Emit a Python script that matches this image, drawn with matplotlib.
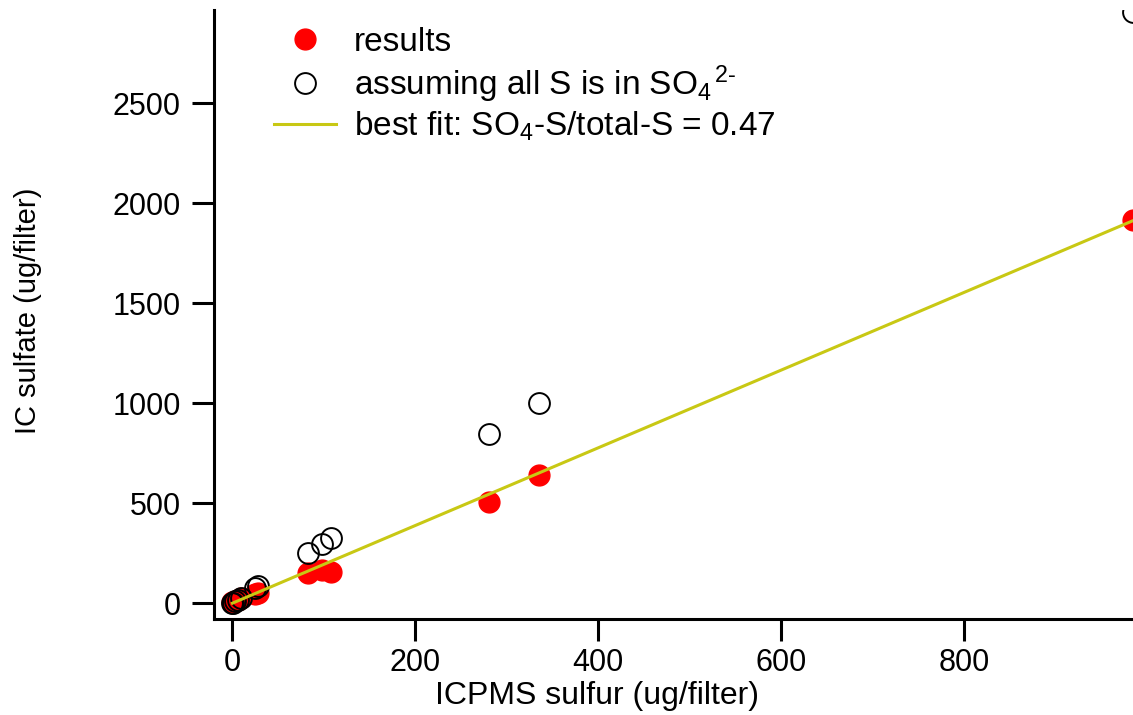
import matplotlib
matplotlib.use("Agg")
import matplotlib.pyplot as plt

plt.rcParams['font.family'] = ['Liberation Sans', 'DejaVu Sans']
plt.rcParams['mathtext.fontset'] = 'custom'
plt.rcParams['mathtext.rm'] = 'Liberation Sans'
plt.rcParams['mathtext.it'] = 'Liberation Sans'
plt.rcParams['mathtext.default'] = 'regular'

# ICPMS sulfur vs IC sulfate (ug/filter)
icpms_s = [985, 335, 281, 108, 98, 83, 28, 25, 9, 6, 3, 1, 0]
ic_sulfate = [1915, 642, 508, 155, 165, 150, 50, 45, 25, 18, 12, 8, 5]
all_so4 = [2955, 1003, 845, 325, 298, 252, 88, 78, 26, 17, 9, 3, 0]

# best fit line end points
fit_x = [0, 985]
fit_y = [0, 1912]

xticks = [0, 200, 400, 600, 800]
yticks = [0, 500, 1000, 1500, 2000, 2500]

fig = plt.figure(figsize=(11.33, 7.15), dpi=100)
ax = fig.add_axes([0.189, 0.134, 0.811, 0.852])

ax.plot(icpms_s, ic_sulfate, 'o', color='red', ms=15, mec='red', ls='none',
        label='results')
ax.plot(icpms_s, all_so4, 'o', mfc='none', mec='black', mew=1.4, ms=15, ls='none',
        label=r'assuming all S is in SO$_4$$^{\,2\text{-}}$')
ax.plot(fit_x, fit_y, color='#c8c814', lw=2.2,
        label=r'best fit: SO$_4$-S/total-S = 0.47')

ax.set_xlim(-20, 985)
ax.set_ylim(-80, 2965)
ax.set_xticks(xticks)
ax.set_yticks(yticks)

for s in ['top', 'right']:
    ax.spines[s].set_visible(False)
for s in ['left', 'bottom']:
    ax.spines[s].set_linewidth(2.2)
ax.tick_params(direction='out', length=16, width=2.2, labelsize=22, pad=8)
ax.tick_params(axis='x', pad=5)

ax.set_xlabel('ICPMS sulfur (ug/filter)', fontsize=23)
ax.set_ylabel('IC sulfate (ug/filter)', fontsize=21)
ax.xaxis.set_label_coords(0.417, -0.102)
ax.yaxis.set_label_coords(-0.187, 0.507)

ax.legend(loc='upper left', bbox_to_anchor=(0.065, 0.972), frameon=False,
          borderaxespad=0, borderpad=0, fontsize=24, handlelength=1.85,
          handletextpad=0.55, labelspacing=0.15)

fig.savefig('out.png', dpi=100)
